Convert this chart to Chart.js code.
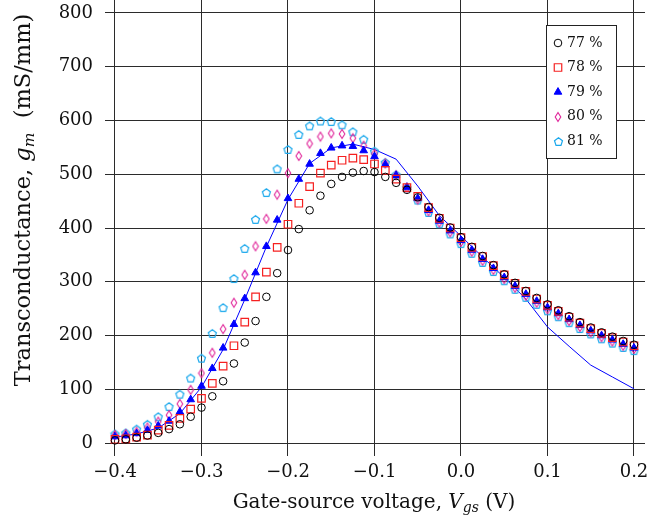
<!DOCTYPE html>
<html>
<head>
<meta charset="utf-8">
<script src="https://cdn.jsdelivr.net/npm/chart.js@4.4.1/dist/chart.umd.min.js"></script>
<style>
html,body{margin:0;padding:0;background:#fff;}
#c{display:block;}
</style>
</head>
<body>
<canvas id="c" width="651" height="522"></canvas>
<script>
// ---- data ----
const vgs = [-0.4,-0.3875,-0.375,-0.3625,-0.35,-0.3375,-0.325,-0.3125,-0.3,-0.2875,-0.275,-0.2625,-0.25,-0.2375,-0.225,-0.2125,-0.2,-0.1875,-0.175,-0.1625,-0.15,-0.1375,-0.125,-0.1125,-0.1,-0.0875,-0.075,-0.0625,-0.05,-0.0375,-0.025,-0.0125,0,0.0125,0.025,0.0375,0.05,0.0625,0.075,0.0875,0.1,0.1125,0.125,0.1375,0.15,0.1625,0.175,0.1875,0.2];
const gm77 = [5,7,10,14,19,26,35,49,66,87,115,148,187,227,272,316,359,398,433,460,482,495,503,506,504,495,484,471,457,439,419,401,383,365,348,331,314,298,283,270,258,247,236,225,215,206,198,190,183];
const gm78 = [7,8,11,15,24,33,46,63,83,111,143,181,225,272,318,364,407,446,477,502,517,526,530,527,519,507,491,475,459,438,418,400,382,364,347,330,313,297,282,268,256,245,234,223,213,204,196,188,181];
const gm79 = [12,14,18,24,32,41,58,81,106,139,177,221,269,317,366,415,455,491,519,539,549,553,552,544,533,518,498,476,455,433,413,395,377,359,342,325,308,292,277,264,252,241,230,219,209,200,192,184,177];
const gm80 = [15,17,21,29,40,52,73,99,130,168,212,261,313,366,417,462,502,534,557,570,576,575,567,553,538,520,498,475,453,431,410,392,374,356,339,322,305,289,274,261,249,238,227,216,206,197,189,181,175];
const gm81 = [17,19,26,35,49,68,91,121,158,204,252,306,362,416,466,510,546,574,590,599,598,592,579,565,543,522,499,475,452,429,408,389,371,353,336,319,302,286,271,258,246,235,224,213,203,194,186,178,172];
const simVgs = [-0.4,-0.375,-0.35,-0.325,-0.3,-0.275,-0.25,-0.225,-0.2,-0.175,-0.15,-0.125,-0.1,-0.075,-0.05,-0.025,0,0.025,0.05,0.075,0.1,0.125,0.15,0.175,0.2];
const simGm = [11,17,28,55,104,174,267,365,453,520,549,556,546,528,478,423,385,346,308,268,216,180,145,123,101];
const seriesLabels = ['77 %','78 %','79 %','80 %','81 %'];
const xTicks = [-0.4,-0.3,-0.2,-0.1,0,0.1,0.2];
const yTicks = [0,100,200,300,400,500,600,700,800];

// ---- marker images ----
function makeDiamond(color){
  const c=document.createElement('canvas'); c.width=8; c.height=12;
  const g=c.getContext('2d'); g.strokeStyle=color; g.lineWidth=1.1;
  g.beginPath(); g.moveTo(4,1.5); g.lineTo(6.8,6); g.lineTo(4,10.5); g.lineTo(1.2,6); g.closePath(); g.stroke();
  return c;
}
function makePentagon(color){
  const c=document.createElement('canvas'); c.width=11; c.height=11;
  const g=c.getContext('2d'); g.strokeStyle=color; g.lineWidth=1.2;
  g.beginPath();
  for(let k=0;k<5;k++){const a=-Math.PI/2+k*2*Math.PI/5; const px=5.5+4.2*Math.cos(a), py=6+4.2*Math.sin(a); if(k) g.lineTo(px,py); else g.moveTo(px,py);}
  g.closePath(); g.stroke();
  return c;
}
const diamondImg = makeDiamond('#e0259a');
const pentagonImg = makePentagon('#1aa8ec');

function pts(xs, ys){ return xs.map((x,i)=>({x:x, y:ys[i]})); }

const FONT = '"DejaVu Serif", serif';

const datasets = [
  {label:seriesLabels[0], data:pts(vgs,gm77), showLine:false, pointStyle:'circle', pointRadius:3.8, pointBorderWidth:1, pointBorderColor:'#000', pointBackgroundColor:'rgba(0,0,0,0)'},
  {label:seriesLabels[1], data:pts(vgs,gm78), showLine:false, pointStyle:'rect', pointRadius:5.3, pointBorderWidth:1.2, pointBorderColor:'#f52020', pointBackgroundColor:'rgba(0,0,0,0)'},
  {label:seriesLabels[2], data:pts(vgs,gm79), showLine:false, pointStyle:'triangle', pointRadius:4.4, pointBorderWidth:1, pointBorderColor:'#0000ff', pointBackgroundColor:'#0000ff'},
  {label:seriesLabels[3], data:pts(vgs,gm80), showLine:false, pointStyle:diamondImg, pointRadius:4, pointBorderWidth:1, pointBorderColor:'#e0259a', pointBackgroundColor:'rgba(0,0,0,0)'},
  {label:seriesLabels[4], data:pts(vgs,gm81), showLine:false, pointStyle:pentagonImg, pointRadius:4, pointBorderWidth:1, pointBorderColor:'#1aa8ec', pointBackgroundColor:'rgba(0,0,0,0)'},
  {label:'sim', data:pts(simVgs,simGm), showLine:true, borderColor:'#0000ff', borderWidth:1, pointRadius:0, tension:0}
];

function drawMarker(ctx, ds, x, y){
  ctx.save();
  ctx.lineWidth = ds.pointBorderWidth; ctx.strokeStyle = ds.pointBorderColor; ctx.fillStyle = ds.pointBackgroundColor;
  const s = ds.pointStyle, r = ds.pointRadius;
  if (typeof s !== 'string'){ ctx.drawImage(s, Math.round(x - s.width/2), Math.round(y - s.height/2)); ctx.restore(); return; }
  ctx.beginPath();
  if (s==='circle'){ ctx.arc(x,y,r,0,Math.PI*2); }
  else if (s==='rect'){ const h=r*Math.SQRT1_2; ctx.rect(x-h,y-h,2*h,2*h); }
  else if (s==='triangle'){ ctx.moveTo(x, y-r); ctx.lineTo(x+r*Math.sin(2*Math.PI/3), y-r*Math.cos(2*Math.PI/3)); ctx.lineTo(x+r*Math.sin(4*Math.PI/3), y-r*Math.cos(4*Math.PI/3)); ctx.closePath(); }
  ctx.fill(); ctx.stroke();
  ctx.restore();
}

function drawRich(ctx, segs, x, y){
  let w=0;
  segs.forEach(s=>{ctx.font=s.font; s.w=ctx.measureText(s.t).width; w+=s.w;});
  let cx = x - w/2;
  segs.forEach(s=>{ctx.font=s.font; ctx.fillText(s.t, cx, y+(s.dy||0)); cx+=s.w;});
}

const overlay = {
  id:'overlay',
  afterDraw(chart){
    const ctx = chart.ctx;
    ctx.save();
    ctx.fillStyle = '#111'; ctx.textAlign='left'; ctx.textBaseline='alphabetic';
    // x title
    drawRich(ctx, [
      {t:'Gate-source voltage, ', font:'20px '+FONT},
      {t:'V', font:'italic 20px '+FONT},
      {t:'gs', font:'italic 14px '+FONT, dy:4},
      {t:' (V)', font:'20px '+FONT}
    ], 374, 508);
    // y title
    ctx.translate(30, 200); ctx.rotate(-Math.PI/2);
    drawRich(ctx, [
      {t:'Transconductance, ', font:'22.5px '+FONT},
      {t:'g', font:'italic 22.5px '+FONT},
      {t:'m', font:'italic 15.5px '+FONT, dy:4},
      {t:'  (mS/mm)', font:'22.5px '+FONT}
    ], 0, 0);
    ctx.restore();
    // legend
    ctx.save();
    ctx.fillStyle='#fff'; ctx.fillRect(546.5,25.5,70,133);
    ctx.strokeStyle='#222'; ctx.lineWidth=1; ctx.strokeRect(546.5,25.5,70,133);
    ctx.font='14px '+FONT; ctx.textBaseline='middle'; ctx.textAlign='left';
    for(let i=0;i<5;i++){
      const y = 43 + i*24.5;
      drawMarker(ctx, datasets[i], 558, y);
      ctx.fillStyle='#111';
      ctx.fillText(seriesLabels[i], 567, y);
    }
    ctx.restore();
  }
};

function fmtX(v){ if (Math.abs(v)<1e-9) return '0.0'; return (v<0?'\u2212':'') + Math.abs(v).toFixed(1); }

new Chart(document.getElementById('c'), {
  type:'scatter',
  data:{datasets:datasets},
  options:{
    responsive:false, animation:false, devicePixelRatio:1,
    layout:{autoPadding:false, padding:{left:0,right:6,top:0,bottom:0}},
    plugins:{legend:{display:false}, tooltip:{enabled:false}},
    scales:{
      x:{type:'linear', min:-0.41156, max:0.21272,
        afterBuildTicks: ax=>{ ax.ticks = xTicks.map(v=>({value:v})); },
        afterFit: ax=>{ ax.height = 66; ax.paddingLeft = 0; ax.paddingRight = 0; ax.paddingTop = 0; ax.paddingBottom = 0; },
        grid:{color:'#2b2b2b', lineWidth:1, drawTicks:false},
        border:{display:false},
        ticks:{font:{family:'DejaVu Serif', size:18}, color:'#111', padding:6, maxRotation:0, autoSkip:false, callback:v=>fmtX(v)}
      },
      y:{type:'linear', min:-24, max:824,
        afterBuildTicks: ax=>{ ax.ticks = yTicks.map(v=>({value:v})); },
        afterFit: ax=>{ ax.width = 105; ax.paddingTop = 0; ax.paddingBottom = 0; ax.paddingLeft = 0; ax.paddingRight = 0; },
        grid:{color:'#2b2b2b', lineWidth:1, drawTicks:false},
        border:{display:false},
        ticks:{font:{family:'DejaVu Serif', size:18}, color:'#111', padding:12, autoSkip:false, callback:v=>String(v)}
      }
    }
  },
  plugins:[overlay]
});
</script>
</body>
</html>
